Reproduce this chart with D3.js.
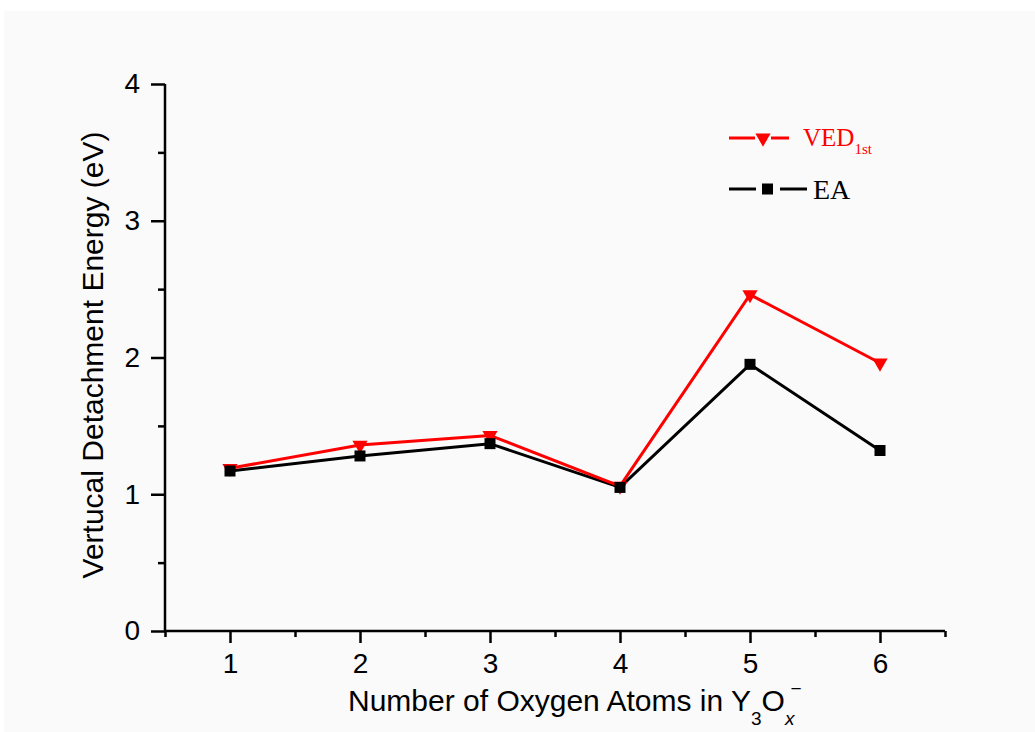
<!DOCTYPE html>
<html><head><meta charset="utf-8">
<script src="https://cdn.jsdelivr.net/npm/d3@7"></script>
<style>body{margin:0;background:#fff;} svg{display:block;}</style>
</head><body>
<script>
const categories = [1, 2, 3, 4, 5, 6];
const vedValues = [1.19, 1.36, 1.43, 1.06, 2.46, 1.96];
const eaValues = [1.17, 1.28, 1.37, 1.05, 1.95, 1.32];
const yTicks = [0, 1, 2, 3, 4];
const xTicks = [1, 2, 3, 4, 5, 6];

const W = 1035, H = 732;
const svg = d3.select("body").append("svg").attr("width", W).attr("height", H);
svg.append("rect").attr("x", 4).attr("y", 11).attr("width", W - 4).attr("height", H - 11).attr("fill", "#fafafa");

const x = d3.scaleLinear().domain([0.5, 6.5]).range([165, 945]);
const y = d3.scaleLinear().domain([0, 4]).range([631, 84]);
const sans = "Liberation Sans, Arial, sans-serif";
const serif = "Liberation Serif, Times New Roman, serif";

// axes
const xAxis = svg.append("g").attr("transform", "translate(0,631)")
  .call(d3.axisBottom(x).tickValues(xTicks).tickSize(12).tickSizeOuter(0).tickPadding(10).tickFormat(d3.format("d")));
const xMinor = svg.append("g").attr("transform", "translate(0,631)")
  .call(d3.axisBottom(x).tickValues([0.5,1.5,2.5,3.5,4.5,5.5,6.5]).tickSize(6).tickSizeOuter(0).tickFormat(""));
const yAxis = svg.append("g").attr("transform", "translate(165,0)")
  .call(d3.axisLeft(y).tickValues(yTicks).tickSize(14).tickSizeOuter(0).tickPadding(11).tickFormat(d3.format("d")));
const yMinor = svg.append("g").attr("transform", "translate(165,0)")
  .call(d3.axisLeft(y).tickValues([0.5,1.5,2.5,3.5]).tickSize(7).tickSizeOuter(0).tickFormat(""));
[xAxis, xMinor, yAxis, yMinor].forEach(g => {
  g.attr("font-family", sans).attr("font-size", 28);
  g.selectAll("path.domain").attr("stroke", "#000").attr("stroke-width", 2.5);
  g.selectAll(".tick line").attr("stroke", "#000").attr("stroke-width", 2.5);
  g.selectAll(".tick text").style("font-family", sans).style("font-size", "28px").attr("fill", "#000");
});
xAxis.select("path.domain").attr("d", "M165,0H945");
yAxis.select("path.domain").attr("d", "M0,631V84");
xMinor.select("path.domain").remove();
yMinor.select("path.domain").remove();

const line = d3.line().x((d, i) => x(categories[i])).y(d => y(d));

// series
svg.append("path").datum(eaValues).attr("d", line).attr("fill", "none").attr("stroke", "#000").attr("stroke-width", 3);
svg.append("path").datum(vedValues).attr("d", line).attr("fill", "none").attr("stroke", "#ff0000").attr("stroke-width", 3);

const tri = d3.symbol().type(d3.symbolTriangle).size(100);
svg.selectAll(".ved").data(vedValues).join("path")
  .attr("d", tri)
  .attr("transform", (d, i) => `translate(${x(categories[i])},${y(d)}) rotate(180)`)
  .attr("fill", "#ff0000");
svg.selectAll(".ea").data(eaValues).join("rect")
  .attr("x", (d, i) => x(categories[i]) - 5.5).attr("y", d => y(d) - 5.5)
  .attr("width", 11).attr("height", 11).attr("fill", "#000");

// axis titles
svg.append("text").attr("transform", "translate(103,355) rotate(-90)")
  .attr("text-anchor", "middle").style("font-family", sans)
  .style("font-size", "30px").attr("fill", "#000").text("Vertucal Detachment Energy (eV)");

const xl = svg.append("text").attr("x", 348).attr("y", 711)
  .style("font-family", sans).style("font-size", "30px").attr("fill", "#000");
xl.append("tspan").text("Number of Oxygen Atoms in Y");
xl.append("tspan").style("font-size", "19px").attr("dy", 14).text("3");
xl.append("tspan").attr("dy", -14).text("O");
xl.append("tspan").style("font-size", "19px").attr("font-style", "italic").attr("dy", 14).text("x");
xl.append("tspan").style("font-size", "19px").attr("dx", -4).attr("dy", -30).text("\u2212");

// legend
const lg = svg.append("g");
lg.append("line").attr("x1", 729).attr("x2", 755).attr("y1", 138).attr("y2", 138).attr("stroke", "#ff0000").attr("stroke-width", 3);
lg.append("line").attr("x1", 771).attr("x2", 789).attr("y1", 138).attr("y2", 138).attr("stroke", "#ff0000").attr("stroke-width", 3);
lg.append("path").attr("d", tri).attr("transform", "translate(763,138) rotate(180)").attr("fill", "#ff0000");
const vt = lg.append("text").attr("x", 803).attr("y", 146).style("font-family", serif).style("font-size", "25px").attr("fill", "#ff0000");
vt.append("tspan").text("VED");
vt.append("tspan").style("font-size", "15px").attr("dy", 8).text("1st");

lg.append("line").attr("x1", 729).attr("x2", 756).attr("y1", 189).attr("y2", 189).attr("stroke", "#000").attr("stroke-width", 3);
lg.append("line").attr("x1", 780).attr("x2", 807).attr("y1", 189).attr("y2", 189).attr("stroke", "#000").attr("stroke-width", 3);
lg.append("rect").attr("x", 762).attr("y", 183.5).attr("width", 11).attr("height", 11).attr("fill", "#000");
lg.append("text").attr("x", 813).attr("y", 199).style("font-family", serif).style("font-size", "28px").attr("fill", "#000").text("EA");
</script>
</body></html>
